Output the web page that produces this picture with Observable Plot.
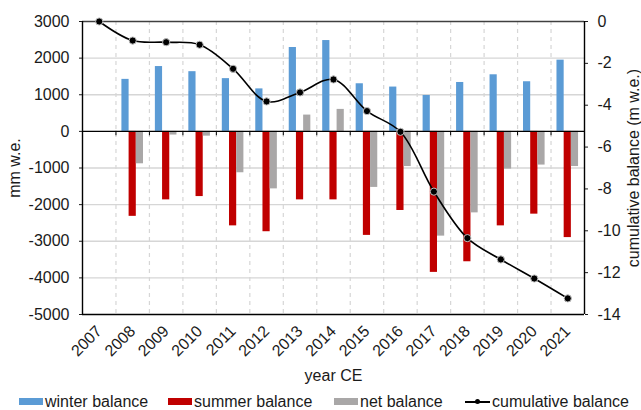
<!DOCTYPE html>
<html>
<head>
<meta charset="utf-8">
<script src="https://cdn.jsdelivr.net/npm/d3@7"></script>
<script src="https://cdn.jsdelivr.net/npm/@observablehq/plot@0.6"></script>
<style>
  html, body { margin: 0; padding: 0; background: white; }
  #wrap { position: relative; width: 641px; height: 410px; font-family: "Liberation Sans", Arial, sans-serif; color: #1a1a1a; }
  #legend { position: absolute; left: 0; top: 392px; width: 641px; height: 20px; font-size: 16px; }
  .item { position: absolute; top: 0; height: 20px; line-height: 20px; white-space: nowrap; }
  .sw { position: absolute; top: 6px; width: 24px; height: 7px; }
  .ln { position: absolute; top: 9px; width: 25px; height: 1.5px; background: #000; }
  .dt { position: absolute; top: 7px; left: 10px; width: 5px; height: 5px; border-radius: 50%; background: #000; }
</style>
</head>
<body>
<div id="wrap">
  <div id="chart"></div>
  <div id="legend"></div>
</div>
<script>
// ---- data ----
const years = [2007, 2008, 2009, 2010, 2011, 2012, 2013, 2014, 2015, 2016, 2017, 2018, 2019, 2020, 2021];
const barYears = [2008, 2009, 2010, 2011, 2012, 2013, 2014, 2015, 2016, 2017, 2018, 2019, 2020, 2021];
const winterBalance = [1420, 1770, 1630, 1440, 1160, 2290, 2480, 1300, 1210, 980, 1335, 1545, 1355, 1945];
const summerBalance = [-2320, -1870, -1780, -2580, -2740, -1870, -1870, -2840, -2160, -3850, -3560, -2580, -2260, -2900];
const netBalance = [-885, -100, -130, -1130, -1570, 445, 600, -1530, -960, -2860, -2225, -1030, -920, -960];
const cumulativeBalance = [0, -0.91, -0.99, -1.11, -2.26, -3.82, -3.39, -2.77, -4.28, -5.27, -8.13, -10.35, -11.37, -12.28, -13.23];
const leftTicks = [3000, 2000, 1000, 0, -1000, -2000, -3000, -4000, -5000];
const rightTicks = [0, -2, -4, -6, -8, -10, -12, -14];
const seriesNames = ["winter balance", "summer balance", "net balance", "cumulative balance"];
const colors = ["#5B9BD5", "#C00000", "#A9A7A7", "#000000"];

// ---- scale helpers ----
const leftDomain = [-5000, 3000];
const rightDomain = [-14, 0];
const toLeft = m => leftDomain[0] + (m - rightDomain[0]) * (leftDomain[1] - leftDomain[0]) / (rightDomain[1] - rightDomain[0]);
const fromLeft = v => rightDomain[0] + (v - leftDomain[0]) * (rightDomain[1] - rightDomain[0]) / (leftDomain[1] - leftDomain[0]);

const barW = 0.215;
const bars = [];
barYears.forEach((yr, i) => {
  bars.push({year: yr, series: 0, value: winterBalance[i]});
  bars.push({year: yr, series: 1, value: summerBalance[i]});
  bars.push({year: yr, series: 2, value: netBalance[i]});
});
const cum = years.map((yr, i) => ({year: yr, value: cumulativeBalance[i]}));
const boundaries = years.slice(1).map(y => y - 0.5);
const gridVals = leftTicks.filter(v => v !== 0 && v !== 3000 && v !== -5000);

const chart = Plot.plot({
  width: 641,
  height: 392,
  marginLeft: 82,
  marginRight: 57,
  marginTop: 21,
  marginBottom: 78,
  style: {fontSize: "16px", fontFamily: "Liberation Sans, Arial, sans-serif", color: "#1a1a1a", background: "white", overflow: "visible"},
  x: {type: "linear", domain: [years[0] - 0.5, years[years.length - 1] + 0.5]},
  y: {domain: leftDomain},
  marks: [
    Plot.ruleY(gridVals, {stroke: "#d6d6d6", strokeWidth: 1.3}),
    Plot.ruleX(boundaries, {stroke: "#d6d6d6", strokeWidth: 1.2, strokeDasharray: "4,4"}),
    Plot.rectY(bars, {
      x1: d => d.year + (d.series - 1.5) * barW,
      x2: d => d.year + (d.series - 0.5) * barW,
      y1: 0,
      y2: "value",
      fill: d => colors[d.series]
    }),
    Plot.ruleY([0], {stroke: "#000", strokeWidth: 1.4}),
    Plot.ruleX(boundaries, {y1: 0, y2: -120, stroke: "#000", strokeWidth: 1}),
    Plot.ruleY([3000], {stroke: "#404040", strokeWidth: 1.3}),
    Plot.ruleY([-5000], {stroke: "#000", strokeWidth: 1.4}),
    Plot.ruleX([years[0] - 0.5, years[years.length - 1] + 0.5], {stroke: "#000", strokeWidth: 1.4}),
    Plot.line(cum, {x: "year", y: d => toLeft(d.value), curve: "catmull-rom", stroke: "#000", strokeWidth: 1.6}),
    Plot.dot(cum, {x: "year", y: d => toLeft(d.value), r: 3.6, fill: "#000", stroke: "#bdbdbd", strokeWidth: 1}),
    Plot.axisY({
      ticks: leftTicks, tickFormat: d => String(d), tickSize: 3, tickPadding: 10,
      label: "mm w.e.", labelAnchor: "center", labelOffset: 74, labelArrow: "none"
    }),
    Plot.axisY({
      anchor: "right", ticks: rightTicks.map(toLeft), tickFormat: d => String(Math.round(fromLeft(d))),
      tickSize: 3, tickPadding: 10,
      label: "cumulative balance (m w.e.)", labelAnchor: "center", labelOffset: 54, labelArrow: "none"
    }),
    Plot.axisX({
      ticks: years, tickFormat: d => String(d), tickRotate: -45, tickSize: 0, tickPadding: 14,
      label: "year CE", labelAnchor: "center", labelOffset: 66, labelArrow: "none"
    })
  ]
});
document.getElementById("chart").appendChild(chart);

// ---- legend ----
const legendX = [19, 168, 334, 465];
const legend = document.getElementById("legend");
seriesNames.forEach((name, i) => {
  const it = document.createElement("div");
  it.className = "item";
  it.style.left = legendX[i] + "px";
  if (i < 3) {
    const sw = document.createElement("span");
    sw.className = "sw";
    sw.style.left = "0px";
    sw.style.background = colors[i];
    it.appendChild(sw);
  } else {
    const ln = document.createElement("span");
    ln.className = "ln";
    ln.style.left = "0px";
    it.appendChild(ln);
    const dt = document.createElement("span");
    dt.className = "dt";
    it.appendChild(dt);
  }
  const tx = document.createElement("span");
  tx.style.position = "absolute";
  tx.style.left = (i < 3 ? 26 : 27) + "px";
  tx.textContent = name;
  it.appendChild(tx);
  legend.appendChild(it);
});
</script>
</body>
</html>
